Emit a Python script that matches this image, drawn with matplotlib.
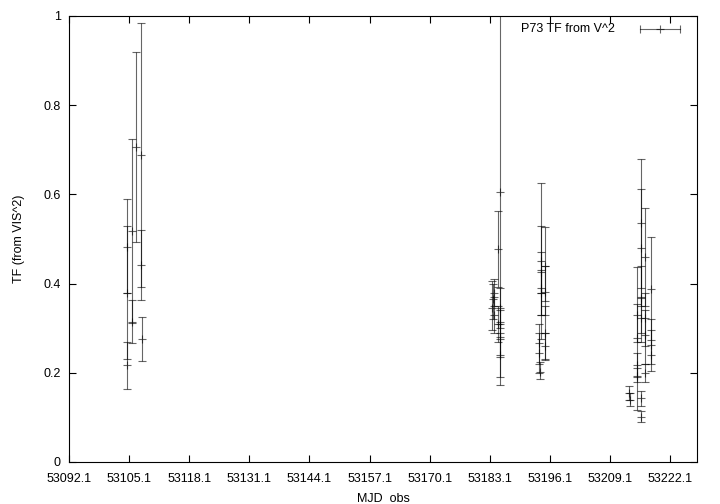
import numpy as np
import matplotlib
matplotlib.use("Agg")
import matplotlib.pyplot as plt
from matplotlib.ticker import FixedLocator, FormatStrFormatter

plt.rcParams['font.family'] = ['Liberation Sans', 'DejaVu Sans']

# P73 transfer function estimates: MJD, TF value, lower and upper error bound
mjd = [53104.58, 53104.58, 53104.58, 53105.72, 53105.72, 53106.65, 53107.73, 53107.73, 53107.9,
       53183.6, 53183.8, 53183.9, 53184.0, 53184.9, 53184.9, 53185.3, 53185.3, 53185.3, 53185.3, 53185.3,
       53194.1, 53194.1, 53194.1, 53194.1, 53193.8, 53193.8, 53194.0, 53195.0, 53195.0, 53195.0, 53195.0,
       53213.3, 53213.5, 53214.85, 53214.85, 53214.85, 53214.85, 53215.7, 53215.7, 53215.7, 53215.7,
       53215.7, 53215.8, 53216.7, 53216.7, 53216.7, 53216.7, 53217.9, 53217.9, 53217.9]
tf = [0.481, 0.379, 0.217, 0.518, 0.313, 0.707, 0.688, 0.441, 0.276,
      0.345, 0.365, 0.33, 0.38, 0.478, 0.31, 0.605, 0.345, 0.31, 0.275, 0.24,
      0.45, 0.39, 0.427, 0.38, 0.266, 0.244, 0.202, 0.44, 0.382, 0.289, 0.259,
      0.155, 0.14, 0.277, 0.33, 0.217, 0.193, 0.535, 0.479, 0.367, 0.322,
      0.143, 0.102, 0.46, 0.322, 0.285, 0.199, 0.389, 0.262, 0.24]
tf_lo = [0.379, 0.230, 0.164, 0.312, 0.266, 0.494, 0.392, 0.363, 0.226,
         0.295, 0.32, 0.29, 0.35, 0.393, 0.27, 0.173, 0.30, 0.28, 0.235, 0.19,
         0.275, 0.33, 0.38, 0.33, 0.22, 0.20, 0.185, 0.36, 0.33, 0.23, 0.229,
         0.14, 0.125, 0.117, 0.27, 0.19, 0.18, 0.39, 0.35, 0.29, 0.27,
         0.125, 0.09, 0.35, 0.26, 0.22, 0.18, 0.273, 0.205, 0.22]
tf_hi = [0.589, 0.529, 0.270, 0.724, 0.363, 0.920, 0.984, 0.520, 0.326,
         0.405, 0.40, 0.37, 0.41, 0.563, 0.35, 1.037, 0.39, 0.34, 0.315, 0.29,
         0.625, 0.53, 0.47, 0.43, 0.31, 0.29, 0.225, 0.528, 0.44, 0.35, 0.29,
         0.17, 0.155, 0.438, 0.355, 0.245, 0.21, 0.679, 0.611, 0.44, 0.37,
         0.16, 0.115, 0.569, 0.38, 0.34, 0.22, 0.504, 0.32, 0.296]

xticks = [53092.1 + 13 * k for k in range(11)]
yticks = [0, 0.2, 0.4, 0.6, 0.8, 1]

mjd = np.array(mjd)
tf = np.array(tf)
yerr = [tf - np.array(tf_lo), np.array(tf_hi) - tf]

fig = plt.figure(figsize=(7.2, 5.04), dpi=100)
ax = fig.add_axes([69 / 720, 1 - 462 / 504, 628 / 720, 446 / 504])

ax.errorbar(mjd, tf, yerr=yerr, fmt='+', color='black', ecolor='black',
            elinewidth=0.8, capsize=3, capthick=0.8, ms=6, mew=0.8, alpha=0.6)

ax.set_xlim(53092.1, 53227.9)
ax.set_ylim(0, 1)
ax.xaxis.set_major_locator(FixedLocator(xticks))
ax.xaxis.set_major_formatter(FormatStrFormatter('%.1f'))
ax.yaxis.set_major_locator(FixedLocator(yticks))
ax.set_yticklabels(['0', '0.2', '0.4', '0.6', '0.8', '1'])
ax.tick_params(direction='in', top=True, right=True, length=5, width=0.8,
               labelsize=9, pad=6)
ax.tick_params(axis='x', pad=8)
for s in ax.spines.values():
    s.set_linewidth(0.8)

ax.set_xlabel('MJD  obs', fontsize=9, labelpad=6)
ax.set_ylabel('TF (from VIS^2)', fontsize=9, labelpad=13)

# gnuplot style key: text then horizontal error bar sample
ax.text(0.869, 0.971, 'P73 TF from V^2', transform=ax.transAxes,
        ha='right', va='center', fontsize=9)
ax.plot([0.909, 0.973], [0.971, 0.971], transform=ax.transAxes, color='black',
        lw=0.8, alpha=0.6)
ax.plot([0.909, 0.973], [0.971, 0.971], transform=ax.transAxes, color='black',
        ls='none', marker='|', ms=6, mew=0.8, alpha=0.6)
ax.plot([0.941], [0.971], transform=ax.transAxes, color='black',
        ls='none', marker='+', ms=6, mew=0.8, alpha=0.6)

fig.savefig('out.png', dpi=100)
